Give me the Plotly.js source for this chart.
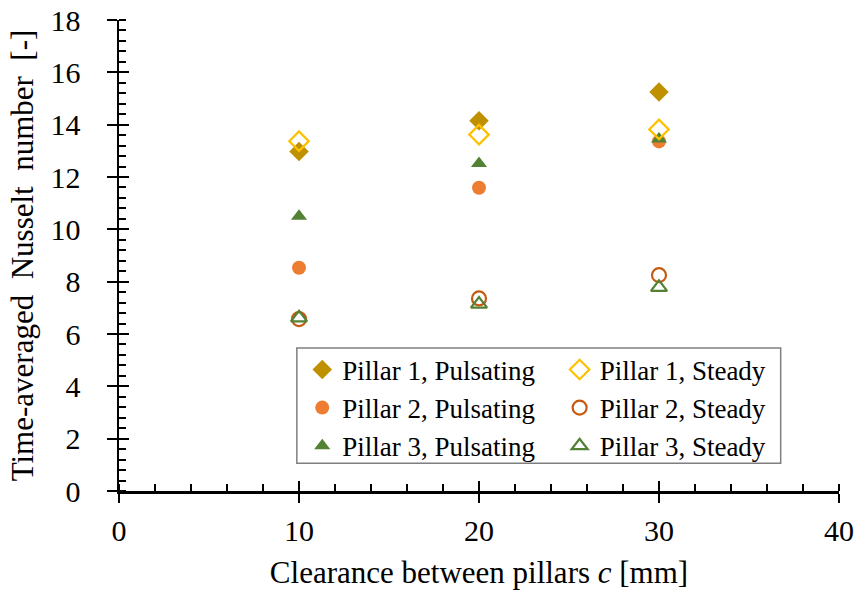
<!DOCTYPE html>
<html>
<head>
<meta charset="utf-8">
<script src="https://cdn.plot.ly/plotly-3.0.1.min.js"></script>
<style>html,body{margin:0;padding:0;background:#fff;}#chart{width:861px;height:599px;}</style>
</head>
<body>
<div id="chart"></div>
<script>
// Data
const clearance = [10, 20, 30];
const pillar1Pulsating = [12.97, 14.15, 15.25];
const pillar1Steady = [13.37, 13.62, 13.82];
const pillar2Pulsating = [8.53, 11.59, 13.36];
const pillar2Steady = [6.57, 7.36, 8.25];
const pillar3Pulsating = [10.5, 12.52, 13.45];
const pillar3Steady = [6.62, 7.14, 7.78];
const seriesNames = [
  'Pillar 1, Pulsating', 'Pillar 1, Steady',
  'Pillar 2, Pulsating', 'Pillar 2, Steady',
  'Pillar 3, Pulsating', 'Pillar 3, Steady'
];
const xTickVals = [0, 10, 20, 30, 40];
const yTickVals = [0, 2, 4, 6, 8, 10, 12, 14, 16, 18];

const font = '"Times New Roman", "Liberation Serif", Times, serif';

function tr(name, y, symbol, color, open, legend, group) {
  return {
    type: 'scatter', mode: 'markers', name: name, x: clearance, y: y,
    legend: legend, legendgroup: group,
    marker: {
      symbol: symbol, size: symbol.indexOf('diamond') === 0 ? 15 : 14,
      color: color,
      line: {color: color, width: open ? 2.2 : 0}
    }
  };
}

const data = [
  tr(seriesNames[0], pillar1Pulsating, 'diamond', '#BF9000', false, 'legend', 'a'),
  tr(seriesNames[2], pillar2Pulsating, 'circle', '#ED7D31', false, 'legend', 'b'),
  tr(seriesNames[4], pillar3Pulsating, 'triangle-up', '#548235', false, 'legend', 'c'),
  tr(seriesNames[1], pillar1Steady, 'diamond-open', '#FFC000', true, 'legend2', 'd'),
  tr(seriesNames[3], pillar2Steady, 'circle-open', '#C55A11', true, 'legend2', 'e'),
  tr(seriesNames[5], pillar3Steady, 'triangle-up-open', '#548235', true, 'legend2', 'f')
];

const legendCommon = {
  orientation: 'v', traceorder: 'grouped', tracegroupgap: 0,
  bgcolor: 'rgba(0,0,0,0)', borderwidth: 0,
  font: {family: font, size: 27, color: '#000'},
  yanchor: 'top', xanchor: 'left', y: 0.309
};

const layout = {
  width: 861, height: 599,
  margin: {l: 119, r: 22, t: 20, b: 108},
  paper_bgcolor: '#fff', plot_bgcolor: '#fff',
  font: {family: font, size: 30, color: '#000'},
  showlegend: true,
  legend: Object.assign({}, legendCommon, {x: 0.2545}),
  legend2: Object.assign({}, legendCommon, {x: 0.612}),
  xaxis: {
    range: [0, 40], tickvals: xTickVals, ticks: 'outside', ticklen: 9, tickwidth: 2, tickcolor: '#000',
    minor: {dtick: 2, ticks: 'inside', ticklen: 7, tickwidth: 2, tickcolor: '#000', showgrid: false},
    showline: true, linecolor: '#000', linewidth: 2.5, showgrid: false, zeroline: false,
    ticklabelstandoff: 2,
    tickfont: {family: font, size: 30, color: '#000'},
    title: {text: 'Clearance between pillars <i>c</i> [mm]', font: {family: font, size: 31, color: '#000'}, standoff: 16}
  },
  xaxis2: {
    overlaying: 'x', anchor: 'y', side: 'bottom', range: [0, 40],
    tickvals: xTickVals, ticks: 'inside', ticklen: 10, tickwidth: 2, tickcolor: '#000',
    showticklabels: false, showgrid: false, zeroline: false, showline: false
  },
  yaxis: {
    range: [0, 18], tickvals: yTickVals, ticks: 'outside', ticklen: 10, tickwidth: 2, tickcolor: '#000',
    minor: {dtick: 0.4, ticks: 'inside', ticklen: 7, tickwidth: 2, tickcolor: '#000', showgrid: false},
    showline: true, linecolor: '#000', linewidth: 2.5, showgrid: false, zeroline: false,
    ticklabelstandoff: 20,
    tickfont: {family: font, size: 30, color: '#000'},
    title: {text: 'Time-averaged  Nusselt  number  [-]', font: {family: font, size: 31, color: '#000'}, standoff: 8}
  },
  yaxis2: {
    overlaying: 'y', anchor: 'x', side: 'left', range: [0, 18],
    tickvals: yTickVals, ticks: 'inside', ticklen: 10, tickwidth: 2, tickcolor: '#000',
    showticklabels: false, showgrid: false, zeroline: false, showline: false
  },
  shapes: [{
    type: 'rect', xref: 'paper', yref: 'paper', x0: 0.247, x1: 0.919, y0: 0.059, y1: 0.3036,
    line: {color: '#7f7f7f', width: 1.5}, fillcolor: '#fff', layer: 'below'
  }]
};

// invisible trace bound to the overlay axes so that their inside ticks are drawn
data.push({type: 'scatter', mode: 'markers', x: [null], y: [null], xaxis: 'x2', yaxis: 'y2', showlegend: false, hoverinfo: 'skip'});

Plotly.newPlot('chart', data, layout, {staticPlot: true});
</script>
</body>
</html>
